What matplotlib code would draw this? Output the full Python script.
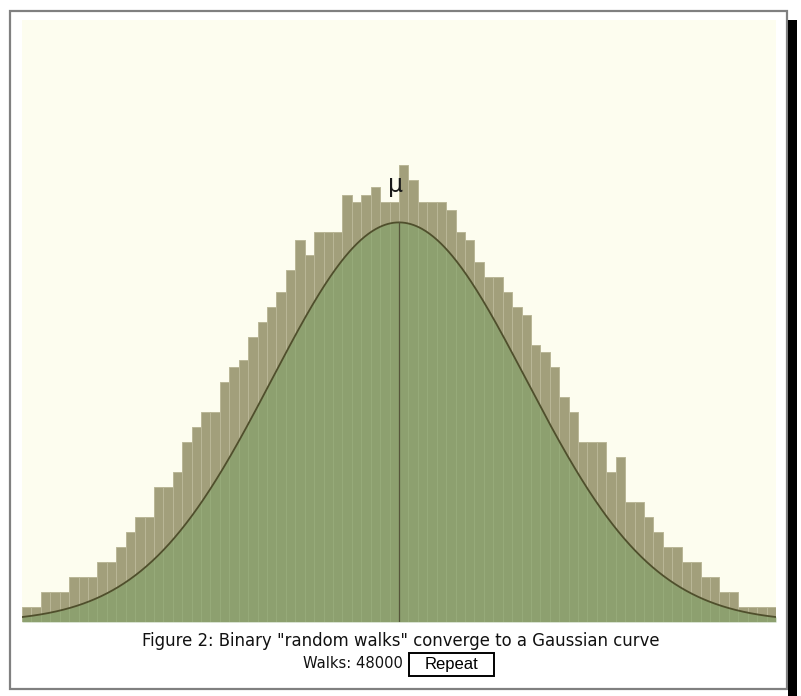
import numpy as np
import matplotlib
matplotlib.use("Agg")
import matplotlib.pyplot as plt
from matplotlib.patches import Rectangle

# ---- data (bar heights, arbitrary count units) ----
bar_heights = [2, 2, 4, 4, 4, 6, 6, 6, 8, 8,
               10, 12, 14, 14, 18, 18, 20, 24, 26, 28,
               28, 32, 34, 35, 38, 40, 42, 44, 47, 51,
               49, 52, 52, 52, 57, 56, 57, 58, 56, 56,
               61, 59, 56, 56, 56, 55, 52, 51, 48, 46,
               46, 44, 42, 41, 37, 36, 34, 30, 28, 24,
               24, 24, 20, 22, 16, 16, 14, 12, 10, 10,
               8, 8, 6, 6, 4, 4, 2, 2, 2, 2]
gauss_mu = 40.0
gauss_sigma = 13.5
gauss_peak = 53.3
y_max = 80.3
caption = 'Figure 2: Binary "random walks" converge to a Gaussian curve'
walks_label = 'Walks: 48000'
button_label = 'Repeat'

W, H = 801, 696
fig = plt.figure(figsize=(W / 100, H / 100), dpi=100)
fig.patch.set_facecolor('white')

# overlay for frame / captions (pixel coordinates)
ov = fig.add_axes([0, 0, 1, 1], zorder=0)
ov.set_xlim(0, W)
ov.set_ylim(H, 0)
ov.axis('off')
ov.add_patch(Rectangle((10, 11), 777, 678, fill=False, edgecolor='#808080', lw=1.6))
ov.add_patch(Rectangle((788, 20), 9, 676, facecolor='black', edgecolor='none'))
ov.text(400.5, 641, caption, ha='center', va='center', fontsize=11.9, color='#111111',
        family='DejaVu Sans')
ov.text(403, 664, walks_label, ha='right', va='center', fontsize=10.6, color='#111111',
        family='DejaVu Sans')
ov.add_patch(Rectangle((409, 653), 85, 23, facecolor='white', edgecolor='black', lw=1.4))
ov.text(451.5, 664.5, button_label, ha='center', va='center', fontsize=12, color='black',
        family='Liberation Sans')

# main plot
ax = fig.add_axes([22 / W, (H - 622) / H, (776 - 22) / W, (622 - 20) / H], zorder=1)
ax.set_facecolor('#fdfdef')
for s in ax.spines.values():
    s.set_visible(False)
ax.set_xticks([])
ax.set_yticks([])
n = len(bar_heights)
ax.bar(np.arange(n), bar_heights, width=1.0, align='edge', color='#a29f7b',
       edgecolor='#bab797', linewidth=0.7)
xs = np.linspace(0, n, 800)
ys = gauss_peak * np.exp(-(xs - gauss_mu) ** 2 / (2 * gauss_sigma ** 2))
ax.fill_between(xs, 0, ys, color='#7fa267', alpha=0.6, linewidth=0)
ax.plot(xs, ys, color='#4f4f2c', lw=1.3)
ax.plot([gauss_mu, gauss_mu], [0, gauss_peak], color='#55553a', lw=0.9)
ax.text(gauss_mu - 0.4, 57.3, 'μ', ha='center', va='baseline', fontsize=17, color='#1a1a1a')
ax.set_xlim(0, n)
ax.set_ylim(0, y_max)

fig.savefig('out.png', dpi=100, facecolor='white')
